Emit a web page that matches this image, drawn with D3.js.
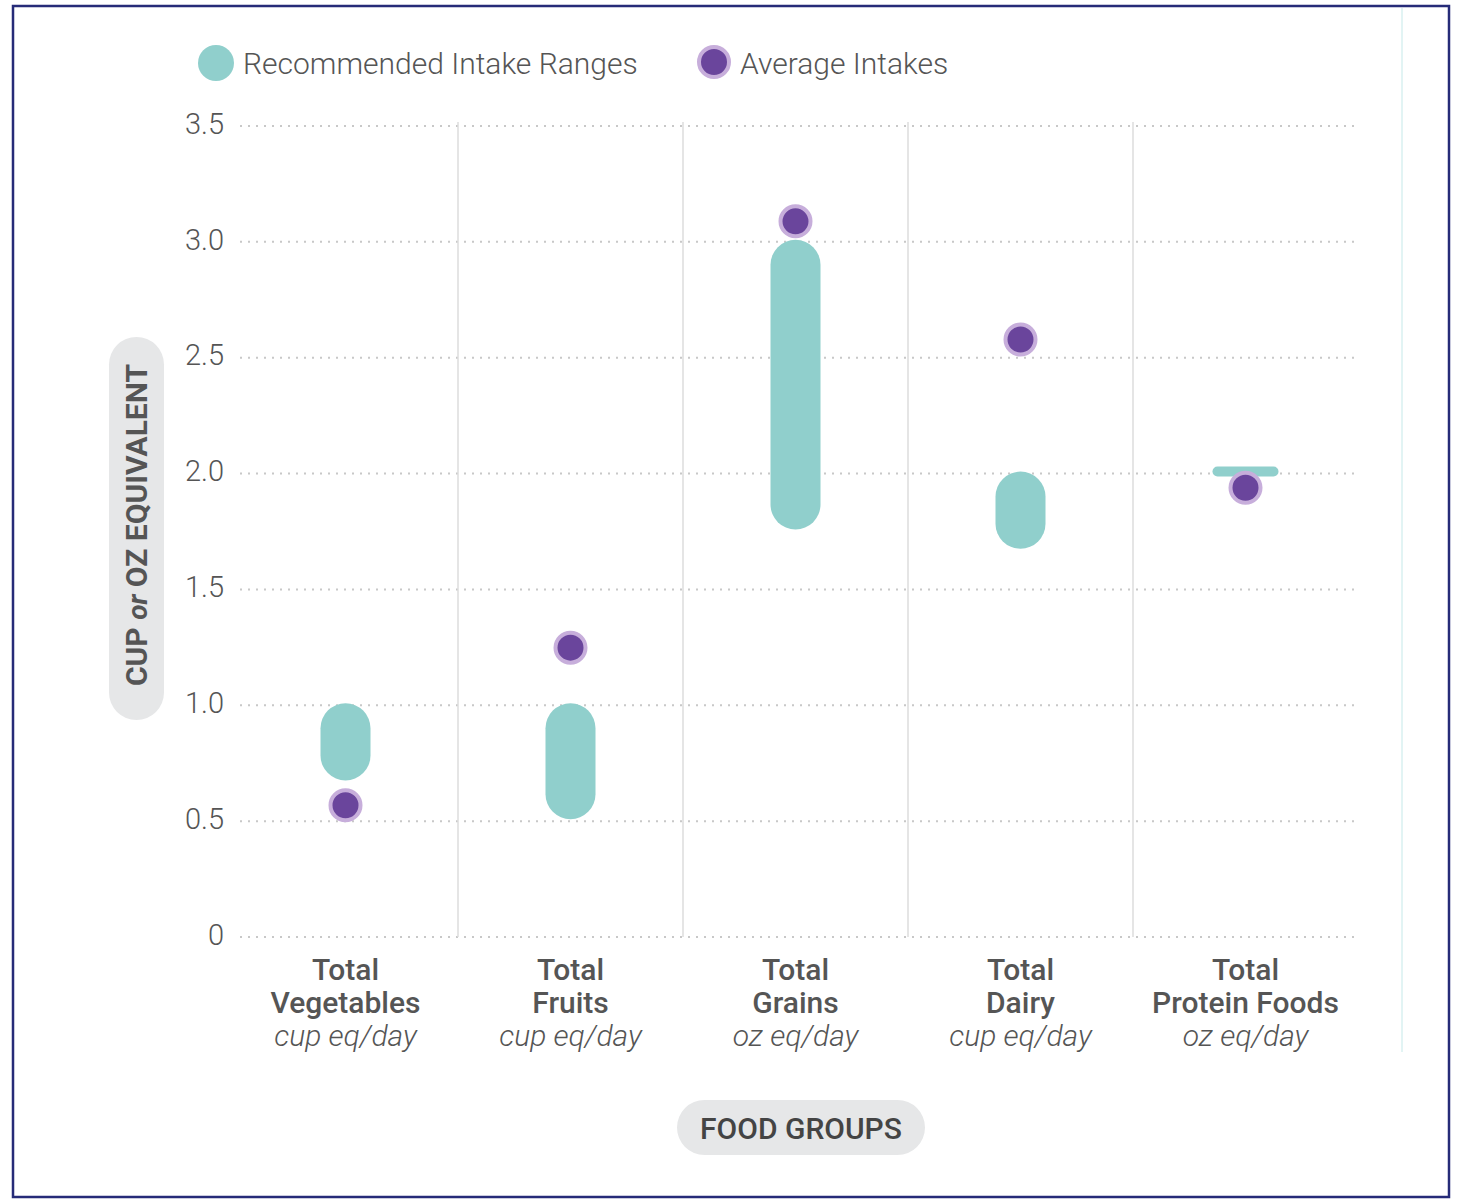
<!DOCTYPE html>
<html>
<head>
<meta charset="utf-8">
<script src="https://cdn.jsdelivr.net/npm/d3@7"></script>
<style>
  body { margin: 0; background: #fff; }
  text { font-family: Roboto, "Noto Sans", sans-serif; }
</style>
</head>
<body>
<div class="chart"></div>
<script>
// food groups, units and values (toddler recommended ranges vs average intakes)
var groups = ["Total Vegetables", "Total Fruits", "Total Grains", "Total Dairy", "Total Protein Foods"];
var line1 = ["Total", "Total", "Total", "Total", "Total"];
var line2 = ["Vegetables", "Fruits", "Grains", "Dairy", "Protein Foods"];
var units = ["cup eq/day", "cup eq/day", "oz eq/day", "cup eq/day", "oz eq/day"];
var recMin = [0.667, 0.5, 1.75, 1.667, 2.0];
var recMax = [1.0, 1.0, 3.0, 2.0, 2.0];
var avgIntake = [0.56, 1.24, 3.08, 2.57, 1.93];
var yTicks = [0, 0.5, 1.0, 1.5, 2.0, 2.5, 3.0, 3.5];

var teal = "#90cfcc", purple = "#6a459c", halo = "#c7aedb", textCol = "#555";

var svg = d3.select(".chart").append("svg")
    .attr("width", 1463)
    .attr("height", 1199);

// frame
svg.append("rect")
    .attr("x", 13).attr("y", 6)
    .attr("width", 1436).attr("height", 1191)
    .attr("fill", "none")
    .attr("stroke", "#262b78")
    .attr("stroke-width", 2.5);

svg.append("line")
    .attr("x1", 1402).attr("x2", 1402)
    .attr("y1", 8).attr("y2", 1052)
    .attr("stroke", "#e2f4f4").attr("stroke-width", 2);

var x = d3.scaleBand().domain(groups).range([233, 1358]);
var y = d3.scaleLinear().domain([0, 3.5]).range([935, 124]);

// dotted gridlines
svg.append("g").selectAll("line")
  .data(yTicks)
  .enter().append("line")
    .attr("x1", 240).attr("x2", 1354)
    .attr("y1", function(d) { return y(d) + 2; })
    .attr("y2", function(d) { return y(d) + 2; })
    .attr("stroke", "#c8c8c8")
    .attr("stroke-width", 2)
    .attr("stroke-dasharray", "2,6");

// column separators
svg.append("g").selectAll("line")
  .data(groups.slice(1))
  .enter().append("line")
    .attr("x1", function(d) { return x(d); })
    .attr("x2", function(d) { return x(d); })
    .attr("y1", y(3.5) - 2).attr("y2", y(0) + 2)
    .attr("stroke", "#dcdcdc")
    .attr("stroke-width", 1.5);

// y axis
var yAxis = d3.axisLeft(y)
    .tickValues(yTicks)
    .tickSize(0)
    .tickPadding(0)
    .tickFormat(function(d) { return d === 0 ? "0" : d3.format(".1f")(d); });
var ya = svg.append("g")
    .attr("transform", "translate(224,0)")
    .call(yAxis);
ya.select(".domain").remove();
ya.selectAll("text")
    .attr("font-family", "Roboto")
    .attr("font-weight", 300)
    .attr("font-size", 29)
    .attr("fill", textCol);

// y axis title pill
svg.append("rect")
    .attr("x", 109).attr("y", 337)
    .attr("width", 55).attr("height", 383)
    .attr("rx", 27.5)
    .attr("fill", "#e6e7e8");
var yt = svg.append("text")
    .attr("transform", "translate(147,525) rotate(-90)")
    .attr("text-anchor", "middle")
    .attr("font-size", 30)
    .attr("font-weight", 700)
    .attr("fill", textCol);
yt.append("tspan").text("CUP ");
yt.append("tspan").attr("font-style", "italic").attr("font-size", 28).text("or");
yt.append("tspan").text(" OZ EQUIVALENT");

// recommended ranges
var bw = 50;
svg.append("g").selectAll("rect")
  .data(groups)
  .enter().append("rect")
    .attr("x", function(d, i) {
      var w = recMax[i] === recMin[i] ? 66 : bw;
      return x(d) + x.bandwidth() / 2 - w / 2;
    })
    .attr("y", function(d, i) { return recMax[i] === recMin[i] ? y(recMax[i]) - 5 : y(recMax[i]); })
    .attr("width", function(d, i) { return recMax[i] === recMin[i] ? 66 : bw; })
    .attr("height", function(d, i) { return recMax[i] === recMin[i] ? 10 : y(recMin[i]) - y(recMax[i]); })
    .attr("rx", function(d, i) { return recMax[i] === recMin[i] ? 5 : bw / 2; })
    .attr("fill", teal);

// average intakes
svg.append("g").selectAll("circle")
  .data(groups)
  .enter().append("circle")
    .attr("cx", function(d) { return x(d) + x.bandwidth() / 2; })
    .attr("cy", function(d, i) { return y(avgIntake[i]); })
    .attr("r", 15)
    .attr("fill", purple)
    .attr("stroke", halo)
    .attr("stroke-width", 4);

// x labels
var xl = svg.append("g").selectAll("text")
  .data(groups)
  .enter().append("text")
    .attr("text-anchor", "middle")
    .attr("fill", textCol)
    .attr("transform", function(d) { return "translate(" + (x(d) + x.bandwidth() / 2) + ",0)"; });
xl.append("tspan").attr("x", 0).attr("y", 980)
    .attr("font-size", 30).attr("font-weight", 500)
    .text(function(d, i) { return line1[i]; });
xl.append("tspan").attr("x", 0).attr("y", 1013)
    .attr("font-size", 30).attr("font-weight", 500)
    .text(function(d, i) { return line2[i]; });
xl.append("tspan").attr("x", 0).attr("y", 1046)
    .attr("font-size", 30).attr("font-weight", 300).attr("font-style", "italic")
    .text(function(d, i) { return units[i]; });

// x axis title pill
svg.append("rect")
    .attr("x", 677).attr("y", 1100)
    .attr("width", 248).attr("height", 55)
    .attr("rx", 27.5)
    .attr("fill", "#e6e7e8");
svg.append("text")
    .attr("x", 801).attr("y", 1139)
    .attr("text-anchor", "middle")
    .attr("font-size", 30)
    .attr("font-weight", 500)
    .attr("fill", "#444")
    .text("FOOD GROUPS");

// legend
svg.append("circle").attr("cx", 216).attr("cy", 63).attr("r", 18).attr("fill", teal);
svg.append("text").attr("x", 243).attr("y", 74)
    .attr("font-size", 30).attr("font-weight", 300).attr("fill", textCol)
    .text("Recommended Intake Ranges");
svg.append("circle").attr("cx", 714).attr("cy", 62).attr("r", 15)
    .attr("fill", purple).attr("stroke", halo).attr("stroke-width", 4);
svg.append("text").attr("x", 740).attr("y", 74)
    .attr("font-size", 30).attr("font-weight", 300).attr("fill", textCol)
    .text("Average Intakes");
</script>
</body>
</html>
